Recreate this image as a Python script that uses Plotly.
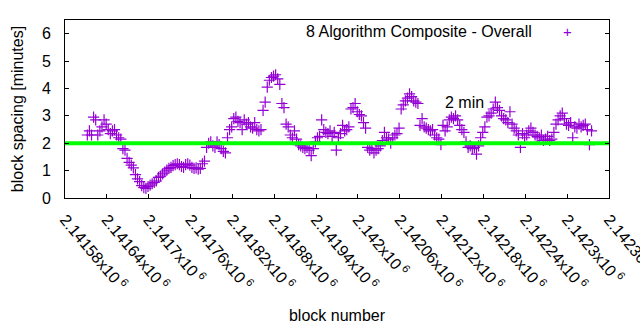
import plotly.graph_objects as go

# Block spacing (minutes), one value every third block
FIRST_BLOCK = 2141612
BLOCK_STEP = 3
spacing = [
    2.30, 2.45, 2.30, 2.95, 2.85, 2.30, 2.45, 2.60, 2.85, 2.70, 2.50, 2.35, 2.45, 2.50, 2.30, 2.20, 2.15,
    1.80, 1.75, 1.45, 1.30, 1.20, 1.10, 0.85, 0.70, 0.60, 0.45, 0.38, 0.35, 0.42, 0.47, 0.52, 0.57, 0.62,
    0.75, 0.80, 0.88, 0.95, 1.02, 1.08, 1.12, 1.18, 1.22, 1.25, 1.22, 1.15, 1.12, 1.22, 1.25, 1.20, 1.12,
    1.08, 1.10, 1.05, 1.08,
    1.25, 1.35, 1.85, 2.00, 2.05, 1.90, 1.85, 2.05, 1.95, 1.80, 1.70, 1.65, 2.20, 2.50, 2.60, 2.90, 2.95,
    2.80, 2.75,
    2.50, 2.85, 2.70, 2.75, 2.60, 2.55, 2.75, 2.50, 2.45, 2.50, 3.20, 3.50, 4.05, 4.30, 4.40, 4.45, 4.50,
    4.35, 4.15, 3.45, 3.30, 2.70, 2.60, 2.30, 2.20, 2.45, 2.15, 1.95,
    1.90, 1.85, 1.80, 1.85, 1.75, 1.55, 1.80, 2.05, 2.20, 2.25, 2.85, 2.50, 2.40, 2.35, 2.45, 2.25, 2.40,
    1.75, 2.20, 2.35, 2.65, 2.45, 2.50, 2.60,
    3.25, 3.30, 3.45, 3.15, 3.05, 3.00, 2.75, 2.55, 1.85, 1.75, 1.80, 1.65, 1.75, 1.80, 1.90, 2.10, 2.40,
    2.20, 2.15, 2.00, 2.20, 2.30, 2.35, 2.55,
    3.25, 3.40, 3.55, 3.65, 3.80, 3.70, 3.55, 3.50, 3.45, 2.65, 2.90, 2.60, 2.55, 2.50, 2.45, 2.50, 2.30,
    2.20, 2.15, 1.95, 2.65, 2.45, 2.60, 2.85, 2.95, 2.90, 3.00, 2.85, 2.65, 2.50, 2.40,
    2.05, 1.85, 1.90, 1.80, 1.85, 1.60, 1.90, 2.20, 2.40, 2.60, 2.95, 3.00, 3.10, 3.25, 3.50, 3.30, 3.20,
    3.00, 2.90, 2.85, 2.75, 3.15, 2.70, 2.55, 2.45, 2.30,
    1.85, 2.35, 2.20, 2.30, 2.45, 2.55, 2.40, 2.30, 2.25, 2.20, 2.30, 2.10, 2.15, 2.25, 2.10, 2.15, 2.40,
    2.70, 2.85, 3.00, 3.10, 2.90, 2.70, 2.65, 2.75, 2.20, 2.60, 2.55, 2.70, 2.60, 2.65, 2.70, 2.50, 1.95,
    2.45,
]
blocks = [FIRST_BLOCK + BLOCK_STEP * i for i in range(len(spacing))]

# Target spacing reference line
TARGET_MIN = 2
X_RANGE = [2141580, 2142360]

# Axis ticks
x_tick_vals = list(range(2141580, 2142361, 60))
x_tick_text = ["2.14158", "2.14164", "2.1417", "2.14176", "2.14182", "2.14188", "2.14194",
               "2.142", "2.14206", "2.14212", "2.14218", "2.14224", "2.1423", "2.14236"]
y_tick_vals = [0, 1, 2, 3, 4, 5, 6]

FONT = "Liberation Sans, Arial, sans-serif"
PURPLE = "#9400D3"
GREEN = "#00FF00"

fig = go.Figure()
fig.add_trace(go.Scatter(
    x=blocks, y=spacing, mode="markers", name="8 Algorithm Composite - Overall",
    marker=dict(symbol="cross-thin", size=8, color=PURPLE, line=dict(width=1.2, color=PURPLE)),
    showlegend=False,
))
fig.add_trace(go.Scatter(
    x=X_RANGE, y=[TARGET_MIN, TARGET_MIN], mode="lines",
    line=dict(color=GREEN, width=4), showlegend=False, hoverinfo="skip",
))

fig.update_layout(
    width=640, height=330,
    margin=dict(l=65, r=31, t=20, b=132),
    paper_bgcolor="white", plot_bgcolor="white",
    font=dict(family=FONT, size=16, color="#000000"),
    xaxis=dict(
        range=X_RANGE, tickvals=x_tick_vals,
        ticktext=[t + "x10<sup> 6</sup>" for t in x_tick_text],
        tickangle=50, ticks="inside", ticklen=4, tickcolor="black",
        showline=True, linecolor="black", linewidth=1, mirror=True,
        showgrid=False, zeroline=False, automargin=False,
        tickfont=dict(size=16), ticklabelstandoff=5, ticklabeloverflow="allow",
        title=dict(text="block number", font=dict(size=16), standoff=17),
    ),
    yaxis=dict(
        range=[0, 6.5], tickvals=y_tick_vals,
        ticks="inside", ticklen=4, tickcolor="black",
        showline=True, linecolor="black", linewidth=1, mirror="ticks",
        showgrid=False, zeroline=False, automargin=False,
        tickfont=dict(size=16), ticklabelstandoff=10,
        title=dict(text="block spacing [minutes]", font=dict(size=16), standoff=14),
    ),
    annotations=[
        dict(text="8 Algorithm Composite - Overall", xref="paper", yref="paper",
             x=0.862, y=0.933, xanchor="right", yanchor="middle", showarrow=False,
             font=dict(size=16)),
        dict(text="+", xref="paper", yref="paper", x=0.923, y=0.935,
             xanchor="center", yanchor="middle", showarrow=False,
             font=dict(size=15, color=PURPLE)),
        dict(text="2 min", x=2142153, y=3.5, xanchor="center", yanchor="middle",
             showarrow=False, font=dict(size=16)),
    ],
)

fig.write_html("out.html")
